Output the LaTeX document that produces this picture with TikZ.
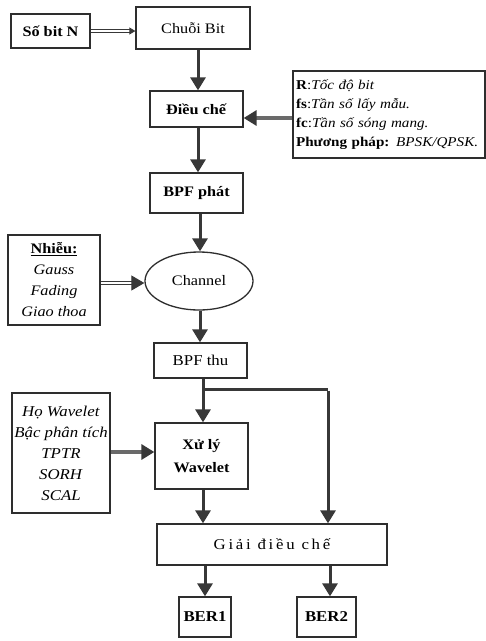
\documentclass[tikz,border=0pt]{standalone}
\usepackage{fontspec}
\setmainfont{Liberation Serif}[FakeStretch=1.12]
\usetikzlibrary{arrows.meta,shapes.geometric}
\definecolor{ink}{HTML}{2E2E2E}
\definecolor{arr}{HTML}{383838}
\tikzset{
  box/.style={draw=ink, line width=1.3pt, rectangle, inner sep=0pt, align=center, font=\fontsize{14.5}{21}\selectfont},
  thickbox/.style={box, line width=2.2pt},
  flow/.style={draw=arr, line width=3pt, -{Triangle[length=13pt,width=15pt]}},
  plain/.style={draw=arr, line width=3pt},
  side/.style={draw=arr!75, line width=3.2pt, -{Triangle[length=13pt,width=15pt,color=arr]}},
  dbl/.style={draw=arr, double=white, double distance=1.6pt, line width=0.9pt},
}
\begin{document}
\begin{tikzpicture}[x=1pt,y=-1pt]
\useasboundingbox[fill=white] (0,0) rectangle (486,641);

\node[thickbox, minimum width=79pt, minimum height=34pt] (n) at (50.5,31) {\textbf{Số bit N}};
\node[box, minimum width=114pt, minimum height=42pt] (cb) at (193,28) {Chuỗi Bit};
\node[box, minimum width=93pt, minimum height=36pt] (dc) at (196.5,109) {\textbf{Điều chế}};
\node[thickbox, minimum height=87pt, align=left, anchor=north west, text width=186pt, inner xsep=3pt, font=\fontsize{13.5}{19}\selectfont] (par) at (292,70)
  {\textbf{R}:\textit{Tốc độ bit}\\
   \textbf{fs}:\textit{Tần số lấy mẫu.}\\
   \textbf{fc}:\textit{Tần số sóng mang.}\\
   \textbf{Phương pháp:} \textit{BPSK/QPSK.}};
\node[box, minimum width=93pt, minimum height=40pt] (bp) at (196.5,193) {\textbf{BPF phát}};
\node[box, ellipse, minimum width=108pt, minimum height=58pt] (ch) at (199,281) {Channel};
\node[thickbox, minimum width=92pt, minimum height=90pt] (nh) at (54,280)
  {\textbf{\underline{Nhiễu:}}\\ \textit{Gauss}\\ \textit{Fading}\\ \textit{Giao thoa}};
\node[box, minimum width=93pt, minimum height=35pt, font=\fontsize{15}{18}\selectfont] (bt) at (200.5,360.5) {BPF thu};
\node[box, minimum width=93pt, minimum height=66pt, font=\fontsize{14.5}{23}\selectfont] (xl) at (201.5,456) {\textbf{Xử lý}\\ \textbf{Wavelet}};
\node[thickbox, minimum width=98pt, minimum height=120pt, font=\fontsize{15}{21}\selectfont] (hw) at (61,453)
  {\textit{Họ Wavelet}\\ \textit{Bậc phân tích}\\ \textit{TPTR}\\ \textit{SORH}\\ \textit{SCAL}};
\node[box, minimum width=230pt, minimum height=41pt, font=\fontsize{15}{18}\selectfont\addfontfeature{LetterSpace=18}] (gd) at (272,544.5) {Giải điều chế};
\node[box, minimum width=52pt, minimum height=40pt, font=\fontsize{15}{18}\selectfont] (b1) at (205,617) {\textbf{BER1}};
\node[box, minimum width=59pt, minimum height=40pt, font=\fontsize{15}{18}\selectfont] (b2) at (326.5,617) {\textbf{BER2}};

\coordinate (j) at (203,389);
\coordinate (jr) at (328,389);

\draw[dbl, -{Triangle[length=6pt,width=7pt]}] (n.east) -- (cb.west |- n.east);
\draw[flow] (cb.south -| 198,0) -- (dc.north -| 198,0);
\draw[side] (par.west |- 0,118) -- (dc.east |- 0,118);
\draw[flow] (dc.south -| 198,0) -- (bp.north -| 198,0);
\draw[flow] (bp.south -| 200,0) -- (ch.north -| 200,0);
\draw[dbl, line width=1pt, double distance=2pt, -{Triangle[length=13pt,width=15pt]}] (nh.east |- 0,283) -- (ch.west |- 0,283);
\draw[flow] (ch.south -| 200,0) -- (bt.north -| 200,0);
\draw[plain] (bt.south -| j) -- (j);
\draw[plain] (j) -- (jr);
\draw[flow] (j) -- (xl.north -| j);
\draw[flow] ([yshift=-1.5pt]jr) -- (gd.north -| jr);
\draw[side] (hw.east |- 0,452) -- (xl.west |- 0,452);
\draw[flow] (xl.south -| j) -- (gd.north -| j);
\draw[flow] (gd.south -| b1) -- (b1.north);
\draw[flow] (gd.south -| 330,0) -- (b2.north -| 330,0);
\end{tikzpicture}
\end{document}
